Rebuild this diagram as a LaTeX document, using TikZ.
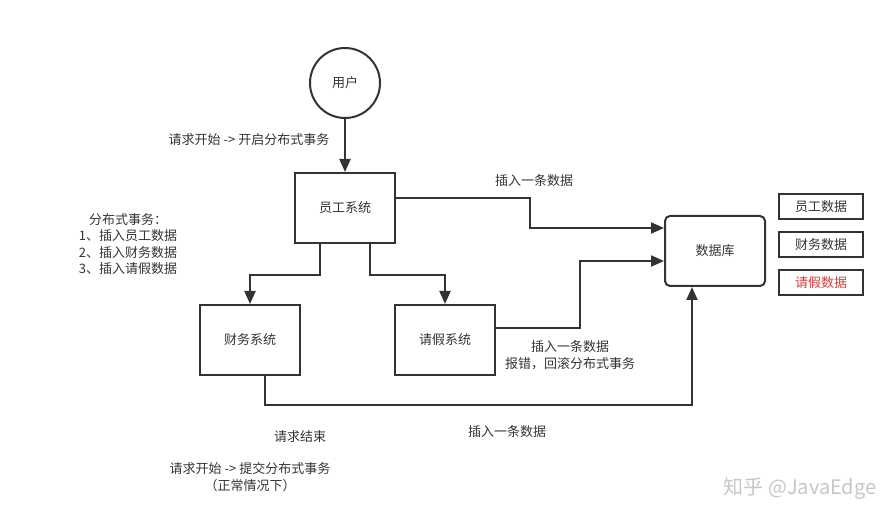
\documentclass[tikz,border=0pt]{standalone}
\usepackage{fontspec}
\setmainfont{Noto Sans CJK SC}
\usetikzlibrary{arrows.meta}
\definecolor{ln}{HTML}{333333}
\definecolor{rd}{HTML}{D93A3A}
\tikzset{
  x=1pt,y=-1pt,
  box/.style={draw=ln,line width=2pt,minimum width=100pt,minimum height=70pt,inner sep=0pt,font=\fontsize{13}{15}\selectfont,text=ln},
  small/.style={draw=ln,line width=2pt,minimum width=84pt,minimum height=25pt,inner sep=0pt,font=\fontsize{13}{15}\selectfont,text=ln},
  lbl/.style={font=\fontsize{13}{16.5}\selectfont,text=ln,align=center,inner sep=0pt},
  conn/.style={draw=ln,line width=2pt,-{Triangle[length=13pt,width=11pt]}},
}
\begin{document}
\begin{tikzpicture}
\useasboundingbox (0,0) rectangle (895,529);
\node[draw=ln,line width=2pt,circle,minimum size=70pt,inner sep=0pt,font=\fontsize{13}{15}\selectfont,text=ln] (user) at (345,83) {用户};
\node[box] (emp) at (345,208) {员工系统};
\node[box] (fin) at (250,340) {财务系统};
\node[box] (leave) at (445,340) {请假系统};
\node[box,rounded corners=5pt] (db) at (715,251) {数据库};
\node[small] (d1) at (821,206.5) {员工数据};
\node[small] (d2) at (821,244.5) {财务数据};
\node[small,text=rd] (d3) at (821,282.5) {请假数据};

\draw[conn] (user) -- (emp);
\draw[conn] (emp.south -| 320,0) |- (250,275) -- (fin.north);
\draw[conn] (emp.south -| 370,0) |- (445,275) -- (leave.north);
\draw[conn] (emp.east |- 0,198) -| (530,228) -- (db.west |- 0,228);
\draw[conn] (leave.east |- 0,328) -| (580,261) -- (db.west |- 0,261);
\coordinate (b1) at (265,405);
\draw[conn] (fin.south -| b1) -- (b1) -| (db.south -| 692,0);

\node[lbl] (t1) at (249,140) {请求开始 -> 开启分布式事务};
\node[lbl] (t2) at (128,244) {分布式事务：\\1、插入员工数据\\2、插入财务数据\\3、插入请假数据};
\node[lbl] (t3) at (534,181) {插入一条数据};
\node[lbl] (t4) at (570,355) {插入一条数据\\报错，回滚分布式事务};
\node[lbl] (t5) at (300,437) {请求结束};
\node[lbl] (t6) at (507,432) {插入一条数据};
\node[lbl] (t7) at (250,477) {请求开始 -> 提交分布式事务\\（正常情况下）};
\node[font=\fontsize{20}{22}\selectfont,text=gray!45,inner sep=0pt] (wm) at (800,489) {知乎 @JavaEdge};
\end{tikzpicture}
\end{document}
